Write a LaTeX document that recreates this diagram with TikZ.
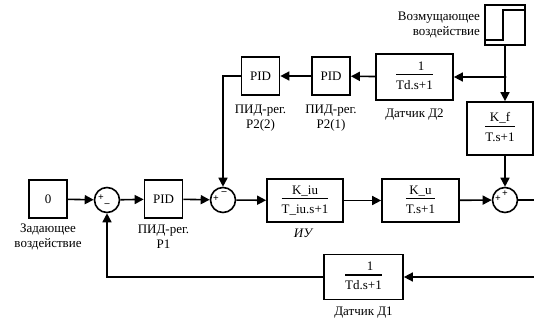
\documentclass[tikz,border=0pt]{standalone}
\usepackage{fontspec}
\setmainfont{Liberation Serif}
\usetikzlibrary{arrows.meta}
\newcommand{\blkfrac}[2]{{\setlength\arrayrulewidth{1.5pt}\begin{tabular}{@{}c@{}}#1\\[-1pt]\hline\rule{0pt}{14pt}#2\end{tabular}}}
\tikzset{
  blk/.style={draw, line width=1.7pt, minimum width=38pt, minimum height=38pt, inner sep=1pt},
  sumnode/.style={draw, circle, line width=1.6pt, minimum size=25pt, inner sep=0pt},
  sgn/.style={font=\fontsize{10}{10}\selectfont\bfseries, inner sep=0pt},
  lbl/.style={align=center, font=\fontsize{13}{15}\selectfont},
  arr/.style={-{Triangle[length=9pt,width=9pt]}},
}
\begin{document}
\begin{tikzpicture}[x=1pt, y=-1pt, line width=1.6pt, font=\fontsize{13}{15}\selectfont]
  \useasboundingbox (0,0) rectangle (534,326);
  % main path
  \node[blk] (ref) at (48,199) {0};
  \node[sumnode] (sum1) at (107,200) {};
  \node[blk] (pid1) at (163.5,199) {PID};
  \node[sumnode] (sum2) at (223,200) {};
  \node[blk, minimum width=76pt, minimum height=43pt] (kiu) at (305,200.5) {\blkfrac{K\_iu}{T\_iu.s+1}};
  \node[blk, minimum width=77pt, minimum height=43pt] (ku) at (420.5,200.5) {\blkfrac{\,K\_u\,}{T.s+1}};
  \node[sumnode] (sum3) at (505,200) {};
  \coordinate (outR) at (534,200);
  % feedback
  \node[blk, minimum width=79pt, minimum height=45pt] (d1) at (363.5,277) {\blkfrac{\quad1\quad}{Td.s+1}};
  \coordinate (fbR) at (534,277);
  % disturbance
  \node[blk, minimum width=40pt, minimum height=40pt] (step) at (505,25) {};
  \draw[line width=1.7pt] (486,40) -- (503,40) -- (503,10) -- (524,10);
  \coordinate (junc) at (505,77);
  \node[blk, minimum width=77pt, minimum height=46pt] (d2) at (414.5,77) {\blkfrac{\quad1\quad}{Td.s+1}};
  \node[blk] (p21) at (331,76) {PID};
  \node[blk] (p22) at (260.5,76) {PID};
  \node[blk, minimum width=66pt, minimum height=53pt] (kf) at (500,128.5) {\blkfrac{\,K\_f\,}{T.s+1}};
  % labels
  \node[lbl] at (48,237) {Задающее\\воздействие};
  \node[lbl] at (163.5,237) {ПИД-рег.\\P1};
  \node[lbl] at (303,233) {\itshape ИУ};
  \node[lbl] at (363.5,313) {Датчик Д1};
  \node[lbl] at (414.5,115) {Датчик Д2};
  \node[lbl] at (331,118) {ПИД-рег.\\P2(1)};
  \node[lbl] at (260.5,118) {ПИД-рег.\\P2(2)};
  \node[lbl, align=right, anchor=east] at (484,25) {Возмущающее\\воздействие};
  % signs
  \node[sgn] at ([shift={(-6,-2)}]sum1.center) {+};
  \node[sgn] at ([shift={(0,5)}]sum1.center) {--};
  \node[sgn] at ([shift={(-7,-1)}]sum2.center) {+};
  \node[sgn] at ([shift={(1,-7)}]sum2.center) {--};
  \node[sgn] at ([shift={(-7,-1)}]sum3.center) {+};
  \node[sgn] at ([shift={(0,-6)}]sum3.center) {+};
  % connections
  \draw[arr] (ref) -- (sum1);
  \draw[arr] (sum1) -- (pid1);
  \draw[arr] (pid1) -- (sum2);
  \draw[arr] (sum2) -- (kiu);
  \draw[arr] (kiu) -- (ku);
  \draw[arr] (ku) -- (sum3);
  \draw (sum3) -- (outR);
  \draw[arr] (fbR) -- (d1);
  \draw[arr] (d1) -| (sum1);
  \draw (step) -- (junc);
  \fill (junc) circle (1.6pt);
  \draw[arr] (junc) -- (d2);
  \draw[arr] (junc) -- (junc |- kf.north);
  \draw[arr] (d2) -- (p21);
  \draw[arr] (p21) -- (p22);
  \draw[arr] (p22) -| (sum2);
  \draw[arr] (sum3 |- kf.south) -- (sum3);
\end{tikzpicture}
\end{document}
